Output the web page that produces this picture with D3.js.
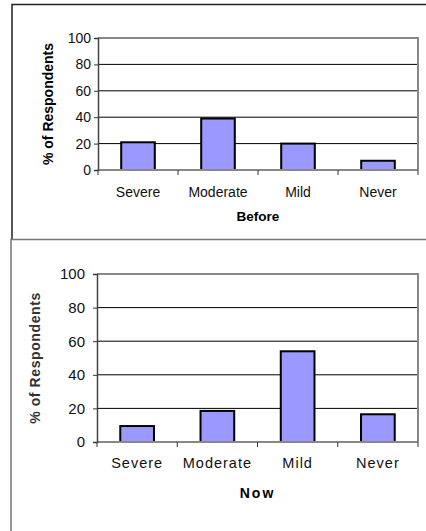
<!DOCTYPE html>
<html>
<head>
<meta charset="utf-8">
<script src="https://cdn.jsdelivr.net/npm/d3@7"></script>
<style>
  body { margin: 0; background: #fff; }
  svg { display: block; font-family: "Liberation Sans", Arial, sans-serif; }
</style>
</head>
<body>
<div id="chart"></div>
<script>
const categories = ["Severe", "Moderate", "Mild", "Never"];
const beforeValues = [21, 39, 20, 7];
const nowValues = [9.5, 18.5, 54, 16.5];
const yTicks = [0, 20, 40, 60, 80, 100];

const svg = d3.select("#chart").append("svg")
    .attr("width", 426)
    .attr("height", 531);

// outer frames
svg.append("path")
    .attr("d", "M12,239 V4.5 H426")
    .attr("fill", "none").attr("stroke", "#222").attr("stroke-width", 1.5);
svg.append("path")
    .attr("d", "M11,531 V239.5 H426")
    .attr("fill", "none").attr("stroke", "#777").attr("stroke-width", 1.5);

function drawChart(cfg){
    const g = svg.append("g");
    const x = d3.scaleBand()
        .domain(categories)
        .range([cfg.left, cfg.right])
        .paddingInner(0.58)
        .paddingOuter(0.29);
    const y = d3.scaleLinear()
        .domain([0, 100])
        .range([cfg.bottom, cfg.top]);

    // grid lines
    g.append("g").selectAll("line")
        .data(yTicks.filter(t => t > 0 && t < 100))
        .enter().append("line")
            .attr("x1", cfg.left).attr("x2", cfg.right)
            .attr("y1", d => y(d)).attr("y2", d => y(d))
            .attr("stroke", "#000").attr("stroke-width", 1);

    // plot border top/right
    g.append("path")
        .attr("d", `M${cfg.left},${y(100)} H${cfg.right} V${y(0)}`)
        .attr("fill", "none").attr("stroke", "#888").attr("stroke-width", 2);

    // bars
    g.append("g").selectAll("rect")
        .data(cfg.values)
        .enter().append("rect")
            .attr("x", (d, i) => x(categories[i]))
            .attr("width", x.bandwidth())
            .attr("y", d => y(d))
            .attr("height", d => y(0) - y(d))
            .attr("fill", "#9999ff")
            .attr("stroke", "#000")
            .attr("stroke-width", 2);

    // baseline
    g.append("line")
        .attr("x1", cfg.left).attr("x2", cfg.right)
        .attr("y1", y(0)).attr("y2", y(0))
        .attr("stroke", "#888").attr("stroke-width", 2);

    // x tick marks at band edges
    const edges = categories.map(c => x(c) - x.step() * x.paddingInner() / 2);
    edges[0] = cfg.left;
    edges.push(cfg.right);
    g.append("g").selectAll("line")
        .data(edges)
        .enter().append("line")
            .attr("x1", d => d).attr("x2", d => d)
            .attr("y1", y(0)).attr("y2", y(0) + 5)
            .attr("stroke", "#333").attr("stroke-width", 1);

    // y axis
    const yAxis = g.append("g")
        .attr("transform", `translate(${cfg.left},0)`)
        .call(d3.axisLeft(y).tickValues(yTicks).tickSize(4).tickPadding(cfg.tickPad));
    yAxis.select(".domain").attr("stroke", "#444").attr("stroke-width", 1.5);
    yAxis.selectAll(".tick line").attr("stroke", "#333");
    yAxis.selectAll("text")
        .attr("font-size", cfg.yFont)
        .attr("fill", "#111")
        .attr("font-family", "Liberation Sans, Arial, sans-serif");

    // category labels
    g.append("g").selectAll("text")
        .data(categories)
        .enter().append("text")
            .attr("x", d => x(d) + x.bandwidth() / 2)
            .attr("y", cfg.labelY)
            .attr("text-anchor", "middle")
            .attr("font-size", cfg.xFont)
            .attr("letter-spacing", cfg.spacing)
            .attr("fill", "#111")
            .text(d => d);

    // x title
    g.append("text")
        .attr("x", (cfg.left + cfg.right) / 2)
        .attr("y", cfg.titleY)
        .attr("text-anchor", "middle")
        .attr("font-size", cfg.titleFont)
        .attr("font-weight", "bold")
        .attr("letter-spacing", cfg.titleSpacing)
        .attr("fill", "#000")
        .text(cfg.title);

    // y title
    g.append("text")
        .attr("transform", `translate(${cfg.yTitleX},${(cfg.top + cfg.bottom) / 2}) rotate(-90)`)
        .attr("text-anchor", "middle")
        .attr("font-size", cfg.yTitleFont)
        .attr("font-weight", "bold")
        .attr("letter-spacing", cfg.yTitleSpacing)
        .attr("fill", cfg.yTitleColor)
        .text("% of Respondents");
}

drawChart({
    values: beforeValues, title: "Before",
    left: 98, right: 418, top: 38, bottom: 170,
    yFont: 14, xFont: 14, titleFont: 13.5, spacing: 0, titleSpacing: 0,
    tickPad: 3, labelY: 197, titleY: 221, yTitleX: 53, yTitleColor: "#000",
    yTitleFont: 14, yTitleSpacing: 0
});

drawChart({
    values: nowValues, title: "Now",
    left: 97, right: 418, top: 274, bottom: 442,
    yFont: 15, xFont: 14.5, titleFont: 14, spacing: 1, titleSpacing: 2,
    tickPad: 8, labelY: 468, titleY: 498, yTitleX: 40, yTitleColor: "#333",
    yTitleFont: 14, yTitleSpacing: 0.6
});
</script>
</body>
</html>
